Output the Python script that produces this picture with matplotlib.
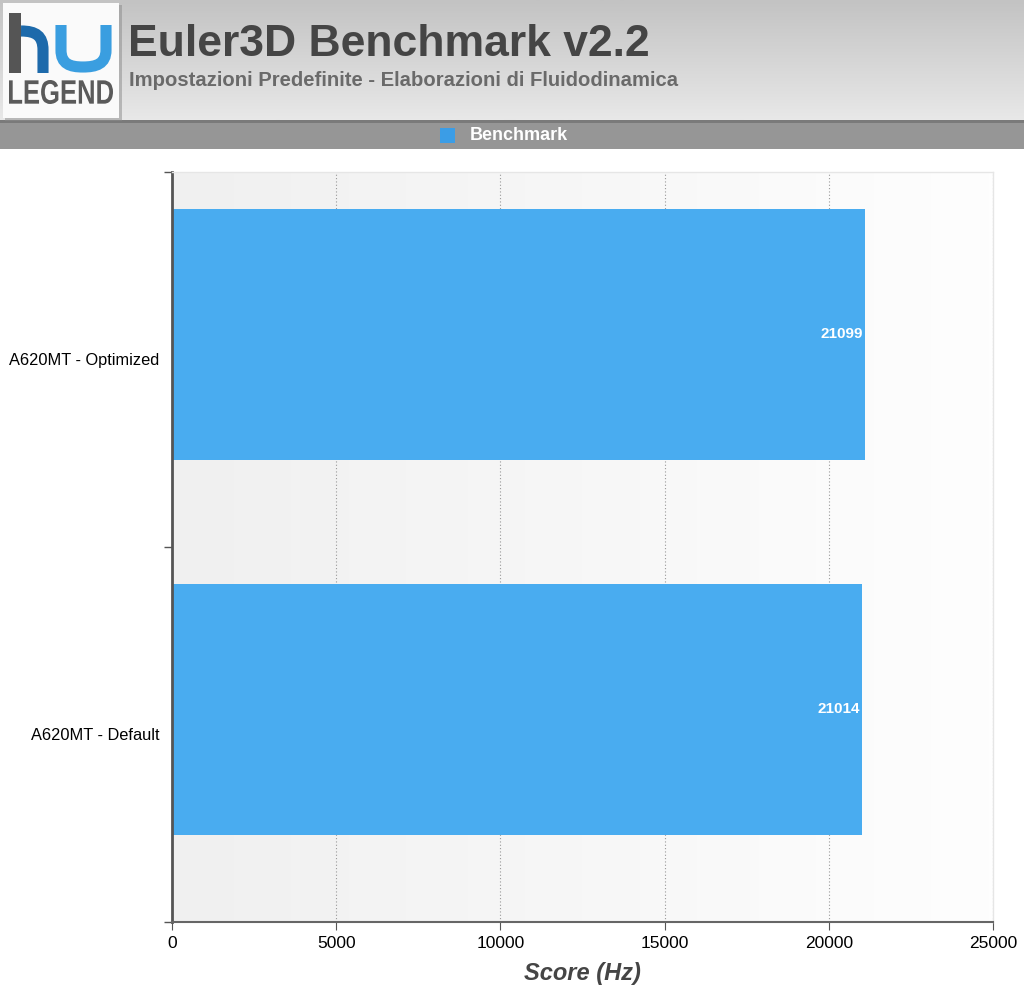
import matplotlib; matplotlib.use('Agg')
import matplotlib.pyplot as plt
from matplotlib.patches import Rectangle, PathPatch
from matplotlib.path import Path
from matplotlib.textpath import TextPath
from matplotlib.font_manager import FontProperties
from matplotlib.transforms import Affine2D
from matplotlib.colors import LinearSegmentedColormap
import numpy as np

# ---------- data ----------
categories = ['A620MT - Default', 'A620MT - Optimized']
scores = [21014, 21099]
xticks = [0, 5000, 10000, 15000, 20000, 25000]
title = 'Euler3D Benchmark v2.2'
subtitle = 'Impostazioni Predefinite - Elaborazioni di Fluidodinamica'
series_name = 'Benchmark'
xlabel = 'Score (Hz)'

bar_color = '#49acf0'
plt.rcParams['font.family'] = ['Liberation Sans', 'DejaVu Sans']

W, H = 1024, 994
fig = plt.figure(figsize=(W/100, H/100), dpi=100)
fig.patch.set_facecolor('white')

def fx(px): return px / W
def fy(py): return 1 - py / H

# ---------- header ----------
hdr = fig.add_axes([0, fy(120), 1, 120/H])
hdr.axis('off')
grad = np.linspace(0, 1, 100)[:, None]
hdr.imshow(grad, cmap=LinearSegmentedColormap.from_list('g', ['#c3c3c3', '#e8e8e8']),
           aspect='auto', extent=[0, 1, 0, 1], origin='upper')
hdr.set_xlim(0, 1); hdr.set_ylim(0, 1)

band = fig.add_axes([0, fy(149), 1, 29/H])
band.axis('off')
band.add_patch(Rectangle((0, 0), 1, 1, transform=band.transAxes, fc='#969696', ec='none'))
band.add_patch(Rectangle((0, 0.9), 1, 0.1, transform=band.transAxes, fc='#7a7a7a', ec='none'))
band.add_patch(Rectangle((fx(440), 0.22), fx(15), 15/29, transform=band.transAxes, fc='#3b9de6', ec='none'))
band.text(fx(470), 0.48, series_name, transform=band.transAxes, color='white',
          fontsize=13, fontweight='bold', va='center', ha='left')

# logo
lg = fig.add_axes([0, fy(122), 124/W, 122/H])
lg.set_xlim(0, 124); lg.set_ylim(122, 0); lg.axis('off')
lg.add_patch(Rectangle((5, 5), 117, 116, fc='#8a8a8a', ec='none', alpha=0.5))
lg.add_patch(Rectangle((3, 3), 116, 115, fc='#fafafa', ec='none'))
lg.add_patch(Rectangle((9, 13), 12, 60, fc='#555555', ec='none'))
h_path = Path([(21, 31), (36, 31), (43, 36), (43, 50), (43, 73)],
              [Path.MOVETO, Path.CURVE4, Path.CURVE4, Path.CURVE4, Path.LINETO])
lg.add_patch(PathPatch(h_path, fill=False, lw=8, ec='#1d6aab', capstyle='butt'))
u_path = Path([(61, 25), (61, 50), (61, 64), (70, 67), (83, 67), (96, 67), (106, 64), (106, 50), (106, 25)],
              [Path.MOVETO, Path.LINETO, Path.CURVE4, Path.CURVE4, Path.CURVE4,
               Path.CURVE4, Path.CURVE4, Path.CURVE4, Path.LINETO])
lg.add_patch(PathPatch(u_path, fill=False, lw=8, ec='#3a9ee0', capstyle='butt'))
tp = TextPath((0, 0), 'LEGEND', size=20, prop=FontProperties(family='Liberation Sans', weight='bold'))
ext = tp.get_extents()
tr = (Affine2D().translate(-ext.x0, -ext.y0)
      .scale(104 / ext.width, -24 / ext.height).translate(9, 104))
lg.add_patch(PathPatch(tr.transform_path(tp), fc='#5a5a5a', ec='none'))

fig.text(fx(128), fy(45), title, fontsize=32, fontweight='bold', color='#454545', va='center', ha='left')
fig.text(fx(129), fy(80), subtitle, fontsize=14.6, fontweight='bold', color='#6a6a6a', va='center', ha='left')

# ---------- plot ----------
ax = fig.add_axes([fx(172), fy(922), (993-172)/W, (922-172)/H])
ax.set_xlim(0, 25000)
ax.set_ylim(-0.5, 1.5)
bg = np.linspace(0, 1, 200)[None, :]
ax.imshow(bg, cmap=LinearSegmentedColormap.from_list('b', ['#f0f0f0', '#fefefe']),
          aspect='auto', extent=[0, 25000, -0.5, 1.5], zorder=0)

ax.set_xticks(xticks)
ax.grid(axis='x', color='#999999', linestyle=(0, (1, 2)), linewidth=0.8, zorder=1)
ypos = np.arange(len(categories))
bars = ax.barh(ypos + 0.067, scores, height=0.67, color=bar_color, zorder=2)
for b, v in zip(bars, scores):
    ax.text(b.get_width() - 60, b.get_y() + b.get_height()/2, str(v), ha='right', va='center',
            color='white', fontsize=11, fontweight='bold', zorder=3)

ax.set_yticks([-0.5, 0.5, 1.5])
ax.set_yticklabels([])
ax.set_yticks(ypos, minor=True)
ax.set_yticklabels(categories, minor=True, fontsize=11.8)
ax.tick_params(axis='y', which='minor', length=0, pad=9)
ax.tick_params(axis='y', which='major', length=6, color='#555555', width=1)
ax.tick_params(axis='x', length=6, color='#555555', labelsize=12.5, pad=4)

for s in ['top', 'right']:
    ax.spines[s].set_color('#e6e6e6')
    ax.spines[s].set_linewidth(1)
ax.spines['left'].set_color('#555555')
ax.spines['left'].set_linewidth(2)
ax.spines['bottom'].set_color('#666666')
ax.spines['bottom'].set_linewidth(1.5)

ax.set_xlabel(xlabel, fontsize=17, fontweight='bold', style='italic', color='#454545', labelpad=8)

plt.savefig('out.png', dpi=100)
